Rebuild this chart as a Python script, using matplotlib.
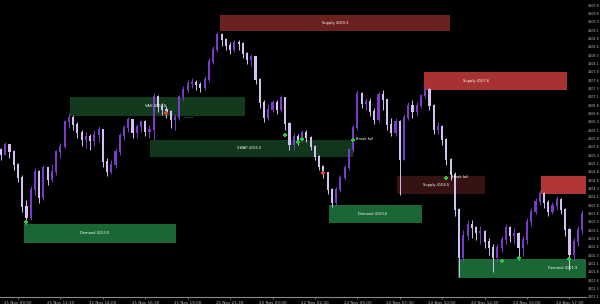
import numpy as np
import matplotlib
matplotlib.use("Agg")
import matplotlib.pyplot as plt
from matplotlib.patches import Rectangle

# candle data (open = previous close)
first_open = 4105.50
close = [4105.35, 4105.65, 4105.44, 4105.05, 4104.66, 4103.79, 4103.46, 4104.30, 4104.84, 4104.06,
         4104.96, 4104.60, 4104.84, 4105.44, 4105.59, 4106.34, 4106.46, 4106.25, 4106.01, 4105.80,
         4105.89, 4105.77, 4105.95, 4106.10, 4105.14, 4104.84, 4105.05, 4105.44, 4105.92, 4106.16,
         4106.40, 4106.01, 4106.19, 4106.34, 4106.04, 4106.10, 4107.09, 4106.79, 4106.70, 4106.64,
         4106.40, 4106.46, 4107.09, 4107.30, 4107.48, 4107.51, 4107.45, 4107.36, 4107.60, 4108.14,
         4108.50, 4108.95, 4108.80, 4108.62, 4108.50, 4108.71, 4108.68, 4108.38, 4108.20, 4108.29,
         4107.60, 4106.91, 4106.46, 4106.70, 4106.91, 4106.70, 4107.06, 4106.28, 4105.65, 4105.89,
         4105.80, 4106.01, 4105.86, 4105.59, 4105.29, 4104.99, 4104.81, 4104.30, 4103.91, 4104.30,
         4104.66, 4104.96, 4105.50, 4106.16, 4107.18, 4106.88, 4106.94, 4106.64, 4106.40, 4107.15,
         4107.00, 4106.25, 4106.01, 4106.34, 4105.20, 4106.46, 4106.82, 4106.64, 4106.82, 4107.12,
         4107.30, 4106.82, 4106.10, 4106.19, 4105.80, 4105.20, 4104.75, 4103.70, 4102.26, 4102.92,
         4103.25, 4103.16, 4103.01, 4103.04, 4102.74, 4102.56, 4102.26, 4102.56, 4102.80, 4103.16,
         4102.92, 4102.98, 4102.56, 4102.80, 4103.34, 4103.64, 4103.94, 4104.18, 4103.91, 4103.64,
         4103.82, 4104.00, 4103.70, 4103.10, 4102.35, 4102.74, 4103.10, 4103.58]
high = [4105.56, 4105.74, 4105.62, 4105.50, 4105.11, 4104.75, 4104.00, 4104.42, 4104.96, 4104.90,
        4105.05, 4104.99, 4105.08, 4105.50, 4105.71, 4106.40, 4106.61, 4106.55, 4106.34, 4106.10,
        4106.04, 4105.98, 4106.10, 4106.22, 4105.95, 4105.26, 4105.20, 4105.56, 4106.01, 4106.25,
        4106.49, 4106.34, 4106.28, 4106.40, 4106.40, 4106.25, 4107.21, 4107.15, 4106.91, 4106.82,
        4106.70, 4106.58, 4107.15, 4107.42, 4107.60, 4107.66, 4107.60, 4107.54, 4107.72, 4108.26,
        4108.62, 4109.04, 4109.01, 4108.86, 4108.74, 4108.80, 4108.80, 4108.74, 4108.44, 4108.38,
        4108.32, 4107.66, 4107.00, 4106.88, 4107.00, 4107.00, 4107.15, 4107.06, 4106.34, 4106.01,
        4105.98, 4106.10, 4106.10, 4105.92, 4105.65, 4105.35, 4105.05, 4104.84, 4104.36, 4104.39,
        4104.75, 4105.05, 4105.56, 4106.25, 4107.30, 4107.24, 4107.06, 4107.06, 4106.76, 4107.24,
        4107.30, 4107.00, 4106.46, 4106.46, 4106.40, 4106.58, 4106.94, 4107.00, 4106.94, 4107.18,
        4107.42, 4107.36, 4106.88, 4106.34, 4106.25, 4105.86, 4105.26, 4104.84, 4103.76, 4103.10,
        4103.40, 4103.40, 4103.22, 4103.22, 4103.10, 4102.86, 4102.68, 4102.68, 4102.92, 4103.28,
        4103.22, 4103.16, 4103.04, 4102.92, 4103.46, 4103.76, 4104.06, 4104.30, 4104.24, 4104.00,
        4103.94, 4104.12, 4104.06, 4103.76, 4103.16, 4102.86, 4103.22, 4103.70]
low = [4105.20, 4105.44, 4105.26, 4104.90, 4104.54, 4103.64, 4103.28, 4103.40, 4104.15, 4103.91,
       4104.00, 4104.45, 4104.54, 4104.75, 4105.26, 4105.56, 4106.16, 4106.10, 4105.86, 4105.62,
       4105.56, 4105.50, 4105.62, 4105.74, 4104.99, 4104.72, 4104.78, 4104.96, 4105.35, 4105.80,
       4106.04, 4105.86, 4105.86, 4106.04, 4105.92, 4105.86, 4105.80, 4106.64, 4106.55, 4106.46,
       4106.16, 4106.10, 4106.40, 4107.00, 4107.24, 4107.36, 4107.30, 4107.24, 4107.30, 4107.54,
       4108.08, 4108.44, 4108.62, 4108.50, 4108.38, 4108.44, 4108.50, 4108.26, 4108.08, 4108.02,
       4107.48, 4106.76, 4106.34, 4106.40, 4106.64, 4106.58, 4106.64, 4106.10, 4105.50, 4105.50,
       4105.65, 4105.74, 4105.74, 4105.50, 4105.20, 4104.90, 4104.66, 4104.18, 4103.79, 4103.85,
       4104.24, 4104.60, 4104.90, 4105.44, 4106.10, 4106.76, 4106.70, 4106.52, 4106.28, 4106.34,
       4106.70, 4106.10, 4105.92, 4105.92, 4104.15, 4105.20, 4106.40, 4106.46, 4106.52, 4106.76,
       4107.06, 4106.70, 4105.98, 4105.98, 4105.65, 4105.05, 4104.60, 4103.52, 4101.69, 4102.14,
       4102.80, 4102.86, 4102.80, 4102.68, 4102.56, 4102.35, 4101.84, 4102.14, 4102.44, 4102.68,
       4102.74, 4102.68, 4102.20, 4102.32, 4102.68, 4103.22, 4103.58, 4103.85, 4103.76, 4103.52,
       4103.58, 4103.70, 4103.58, 4102.92, 4101.90, 4102.20, 4102.62, 4102.98]

# zones: start/end candle, low/high price
zone_start = [51.65, 16.27, 35.1, 5.42, 77.4, 93.4, 99.8, 127.4, 107.8]
zone_end = [105.9, 57.5, 83.0, 41.3, 99.3, 114.2, 133.5, 140.0, 140.0]
zone_lo = [4109.07, 4106.52, 4105.29, 4102.71, 4103.31, 4104.18, 4107.30, 4104.18, 4101.66]
zone_hi = [4109.55, 4107.09, 4105.80, 4103.28, 4103.85, 4104.72, 4107.84, 4104.72, 4102.23]
zone_color = ['#6c2121', '#123a1d', '#11361b', '#1a6634', '#1a6634', '#361212', '#a83232', '#b03535', '#1a6634']
zone_text = ['Supply 4109.3', 'VAH 4106.8', 'VWAP 4105.5', 'Demand 4103.0', 'Demand 4103.6',
             'Supply 4104.5', 'Supply 4107.6', '', 'Demand 4101.9']
zone_text_x = [78.8, 36.5, 58.5, 22.0, 87.5, 102.5, 112.0, 0, 132.5]

# signals
buy_idx = [6, 67, 70, 71, 83, 105, 118, 122, 134]
buy_price = [4103.34, 4105.95, 4105.74, 4105.83, 4105.80, 4104.66, 4102.17, 4102.26, 4102.23]
sell_idx = [39, 76]
sell_price = [4106.61, 4104.81]

date_labels = ['21 Nov 09:00', '21 Nov 11:30', '21 Nov 14:00', '21 Nov 16:30', '21 Nov 19:00',
               '21 Nov 21:30', '22 Nov 00:00', '22 Nov 02:30', '22 Nov 05:00', '22 Nov 07:30',
               '22 Nov 10:00', '22 Nov 12:30', '22 Nov 15:00', '22 Nov 17:30']

n = len(close)
x = np.arange(n)
opn = np.array([first_open] + close[:-1])
cl = np.array(close)
hi = np.maximum(np.array(high), np.maximum(opn, cl))
lo = np.minimum(np.array(low), np.minimum(opn, cl))
up = cl >= opn
col = np.where(up, '#7a3cc8', '#d3c1ef')

fig = plt.figure(figsize=(6.0, 3.04), dpi=100, facecolor='black')
ax = fig.add_axes([0, 0.0214, 586 / 600, 0.9786])
ax.set_facecolor('black')

for i in range(len(zone_start)):
    ax.add_patch(Rectangle((zone_start[i], zone_lo[i]), zone_end[i] - zone_start[i],
                           zone_hi[i] - zone_lo[i], facecolor=zone_color[i], edgecolor='none', zorder=1))
    if zone_text[i]:
        ax.text(zone_text_x[i], (zone_lo[i] + zone_hi[i]) / 2, zone_text[i], color='white',
                fontsize=2.6, ha='center', va='center', zorder=5)

ax.vlines(x, lo, hi, colors=col, linewidth=0.7, zorder=2)
ax.bar(x, np.abs(cl - opn) + 0.02, bottom=np.minimum(opn, cl), width=0.5, color=col, zorder=3)

ax.scatter(buy_idx, buy_price, marker='P', s=6, color='#2ec44a', zorder=4, linewidths=0)
ax.scatter(sell_idx, sell_price, marker='P', s=6, color='#e0453a', zorder=4, linewidths=0)
ax.text(83.7, 4105.82, 'Break fail', color='white', fontsize=2.6, va='center', zorder=5)
ax.text(106.0, 4104.69, 'Break fail', color='white', fontsize=2.6, va='center', zorder=5)
ax.text(43.0, 4106.47, '--------', color='white', fontsize=2.6, va='center', zorder=5)

ax.set_xlim(-0.236, 137.9)
ax.set_ylim(4110 - 0.03 * 297.5, 4110)

yt = np.arange(4109.84, 4101.0, -0.25)
ax.yaxis.tick_right()
ax.set_yticks(yt)
ax.set_yticklabels(['%.1f' % v for v in yt])
ax.tick_params(axis='y', colors='#bbbbbb', labelsize=2.4, length=0, pad=1)
ax.set_xticks(np.arange(4, n, 10))
ax.set_xticklabels(date_labels)
ax.tick_params(axis='x', colors='#bbbbbb', labelsize=3.0, length=1.5, width=0.4, pad=1)

for s in ['top', 'left', 'right']:
    ax.spines[s].set_visible(False)
ax.spines['bottom'].set_color('#888888')
ax.spines['bottom'].set_linewidth(0.8)

fig.savefig('out.png', dpi=100, facecolor='black')
